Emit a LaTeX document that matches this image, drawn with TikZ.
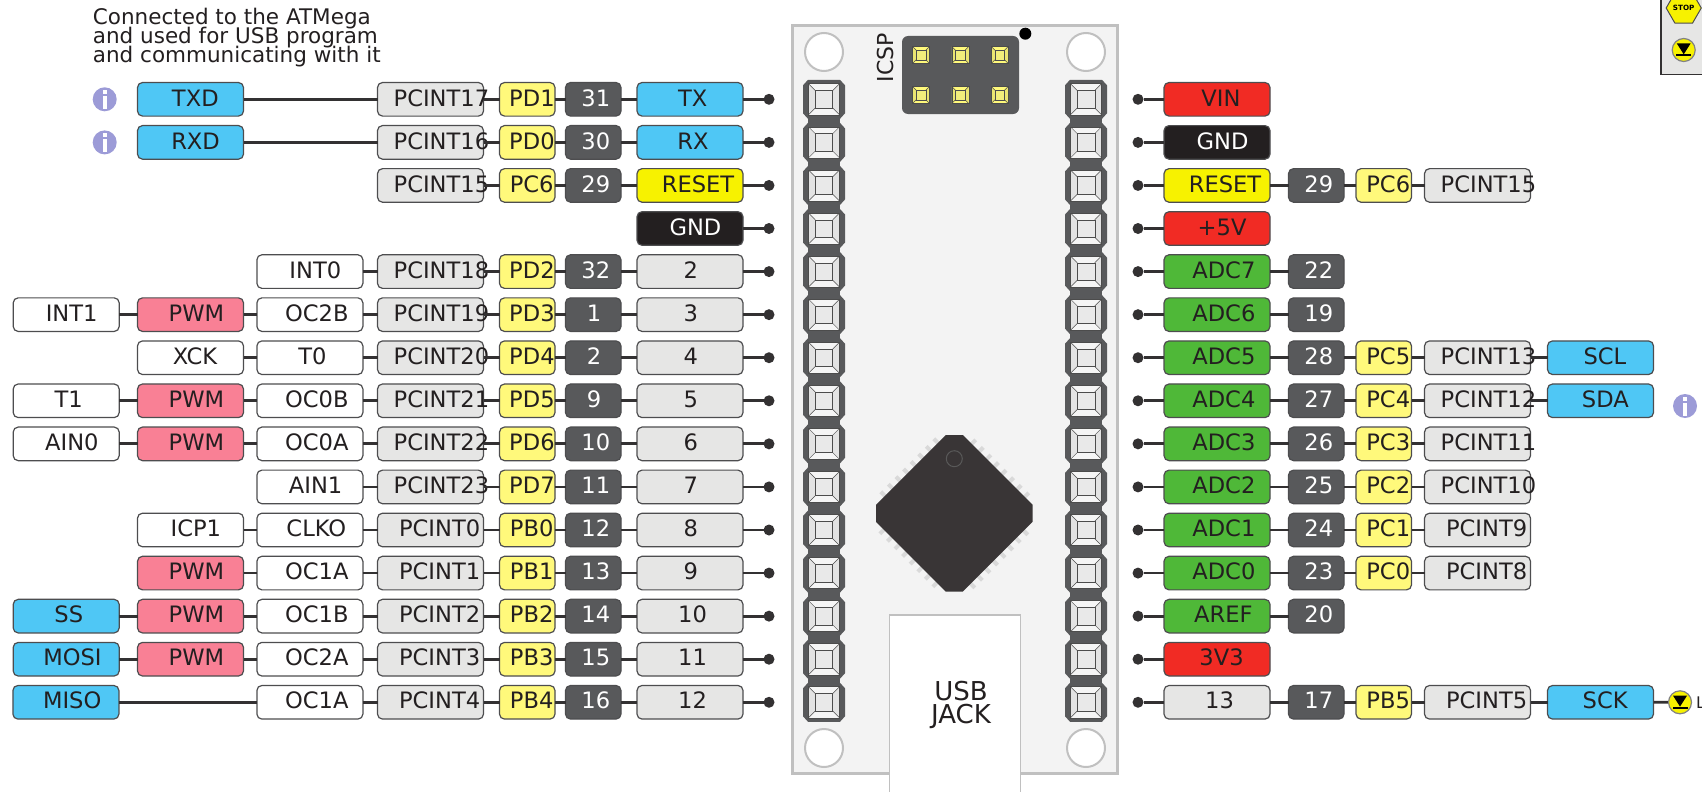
\documentclass[tikz,border=0pt]{standalone}
\usepackage{fontspec}
\setmainfont{DejaVu Sans}
\usepackage{tikz}
\usetikzlibrary{positioning, shapes.geometric}
\definecolor{wirec}{HTML}{333132}
\definecolor{edgec}{HTML}{4D4D4F}
\definecolor{bluec}{HTML}{4FC7F5}
\definecolor{pwmc}{HTML}{F98095}
\definecolor{grayc}{HTML}{E6E6E5}
\definecolor{portc}{HTML}{FFF97B}
\definecolor{digc}{HTML}{58595B}
\definecolor{resetc}{HTML}{F7F200}
\definecolor{redc}{HTML}{F12B24}
\definecolor{blackc}{HTML}{231F20}
\definecolor{greenc}{HTML}{4FB838}
\definecolor{infoc}{HTML}{9C9BD7}
\definecolor{boardc}{HTML}{C0C0C0}
\definecolor{pcbc}{HTML}{F3F3F3}
\newlength{\lblwd}
% text sits a little right of the box centre, by an eighth of its width
\newcommand{\lbl}[1]{\settowidth{\lblwd}{#1}\makebox[0pt][c]{\hspace*{\dimexpr.25\lblwd-2pt\relax}#1}}
\newcommand{\tightlines}{\setlength{\lineskiplimit}{-100pt}}
\tikzset{
  tag/.style={rectangle, draw=edgec, line width=1.2pt, rounded corners=5pt, outer sep=0pt, inner sep=0pt,
              minimum width=106pt, minimum height=33.6pt, text height=13.4pt, text depth=0pt,
              text=blackc, font=\fontsize{22.6}{26}\selectfont},
  blue/.style={tag, fill=bluec},
  pwm/.style={tag, fill=pwmc},
  plain/.style={tag, fill=white},
  gray/.style={tag, fill=grayc},
  dig/.style={tag, fill=digc, text=white, minimum width=55.5pt},
  port/.style={tag, fill=portc, minimum width=55.5pt},
  wire/.style={draw=wirec, line width=2.8pt},
  dot/.style={circle, fill=wirec, inner sep=0pt, outer sep=0pt, minimum size=11pt},
  info/.style={circle, fill=infoc, inner sep=0pt, outer sep=0pt, minimum size=24pt},
  hole/.style={circle, draw=boardc, fill=white, line width=2pt, minimum size=38pt, inner sep=0pt},
  icon/.style={circle, draw=edgec!70, fill=resetc, line width=1.2pt, minimum size=23pt, inner sep=0pt},
}
\newcommand{\infomark}[1]{
  \fill[white] (#1)+(-2,-9.5) rectangle +(2,-5.5);
  \fill[white] (#1)+(-2.2,-3) rectangle +(2.2,10);
}
\newcommand{\groundmark}[1]{
  \fill[black] (#1)+(-7,-6.7) -- +(7,-6.7) -- +(0,4.3) -- cycle;
  \fill[black] (#1)+(-7.5,4.3) rectangle +(7.5,6.2);
}
% one soldered pad with its four bevels
\newcommand{\padshape}[5]{
  \begin{scope}[shift={(#1,#2)}]
    \fill[#4] (-#3,-#3) rectangle (#3,#3);
    \fill[#5] (-#3,-#3) -- (-.56*#3,-.56*#3) -- (-.56*#3,.56*#3) -- (-#3,#3) -- cycle;
    \fill[#5] (#3,-#3) -- (.56*#3,-.56*#3) -- (.56*#3,.56*#3) -- (#3,#3) -- cycle;
    \draw[black!70, line width=.5pt] (-#3,-#3) rectangle (#3,#3);
    \draw[black!70, line width=.5pt, fill=#4!90!gray] (-.56*#3,-.56*#3) rectangle (.56*#3,.56*#3);
    \draw[black!70, line width=.5pt] (-#3,-#3) -- (-.56*#3,-.56*#3) (#3,-#3) -- (.56*#3,-.56*#3)
      (-#3,#3) -- (-.56*#3,.56*#3) (#3,#3) -- (.56*#3,.56*#3);
  \end{scope}
}

\begin{document}
\begin{tikzpicture}[x=1pt, y=-1pt]
  \useasboundingbox (0,0) rectangle (1702,792);
  \begin{scope}
  \clip (0,0) rectangle (1702,792);

  % board
  \draw[boardc, fill=pcbc, line width=3pt] (792,26) rectangle (1117,773);
  \node[hole] (holeA) at (824,52) {};
  \node[hole] (holeB) at (1086,52) {};
  \node[hole] (holeC) at (824,748) {};
  \node[hole] (holeD) at (1086,748) {};

  % headers
  \foreach \hx in {824,1086} {
    \fill[digc] (\hx-16,99) rectangle (\hx+16,702);
    \foreach \k in {0,...,14} {
      \pgfmathsetmacro{\hy}{99.3+43.07*\k}
      \fill[digc] (\hx-21,\hy-14) -- (\hx-16,\hy-19.5) -- (\hx+16,\hy-19.5) -- (\hx+21,\hy-14)
        -- (\hx+21,\hy+14) -- (\hx+16,\hy+19.5) -- (\hx-16,\hy+19.5) -- (\hx-21,\hy+14) -- cycle;
      \padshape{\hx}{\hy}{15.6}{white!92!gray}{white!78!gray}
    }
  }

  % icsp
  \fill[digc, rounded corners=6pt] (902,36) rectangle (1019,114);
  \foreach \px in {921,960.3,999.7} \foreach \py in {55,95} {
    \padshape{\px}{\py}{8.5}{portc}{portc!92!black}
  }
  \fill[black] (1025.3,33.7) circle (6);
  \node[rotate=90, font=\fontsize{22}{26}\selectfont, text=blackc] (icsp) at (885,57.6) {ICSP};

  % chip
  \begin{scope}[shift={(954.3,513.3)}]
    \foreach \r in {0,90,180,270} \foreach \k in {0,...,7} {
      \fill[black!15, rotate=\r, shift={(19+7.57*\k,-71+7.57*\k)}, rotate=45] (-3,-2) rectangle (3.5,2);
    }
    \fill[blackc!90!white] (-8.5,-78.3) -- (8.5,-78.3) -- (78.3,-8.5) -- (78.3,8.5) -- (8.5,78.3)
      -- (-8.5,78.3) -- (-78.3,8.5) -- (-78.3,-8.5) -- cycle;
    \draw[black!65, line width=1pt] (0,-54.6) circle (8);
  \end{scope}

  % usb
  \node[draw=boardc, fill=white, line width=1.2pt, minimum width=131pt, minimum height=200pt, inner sep=0pt,
        outer sep=0pt] (usb) at (954.6,715) {};
  \node[align=center, font=\fontsize{26}{23.5}\selectfont\tightlines, text=blackc] (usbtxt) at (961,705) {USB\\JACK};

  % note
  \node[align=left, anchor=north west, inner sep=0pt, text=blackc, font=\fontsize{21.5}{19}\selectfont\tightlines]
    (note) at (92.7,7.7) {Connected to the ATMega\\and used for USB program\\and communicating with it};

  % left side rows
  \foreach \k/\pc/\ptxt/\dtxt/\ptx/\ctxt in {
    0/blue/TX/31/PD1/PCINT17, 1/blue/RX/30/PD0/PCINT16, 2/reset/RESET/29/PC6/PCINT15,
    4/gray/2/32/PD2/PCINT18, 5/gray/3/1/PD3/PCINT19, 6/gray/4/2/PD4/PCINT20, 7/gray/5/9/PD5/PCINT21,
    8/gray/6/10/PD6/PCINT22, 9/gray/7/11/PD7/PCINT23, 10/gray/8/12/PB0/PCINT0, 11/gray/9/13/PB1/PCINT1,
    12/gray/10/14/PB2/PCINT2, 13/gray/11/15/PB3/PCINT3, 14/gray/12/16/PB4/PCINT4} {
    \pgfmathsetmacro{\hy}{99.3+43.07*\k}
    \coordinate (lrow\k) at (769,\hy);
    \node[tag, fill=\pc c, anchor=center] (lpin\k) at (690,\hy) {\lbl{\ptxt}};
    \node[dig, left=16pt of lpin\k] (ldig\k) {\lbl{\dtxt}};
    \node[port, left=10.5pt of ldig\k] (lport\k) {\lbl{\ptx}};
    \node[gray, left=16pt of lport\k] (lpci\k) {\lbl{\ctxt}};
    \node[dot] (ldot\k) at (lrow\k) {};
    \draw[wire] (lpci\k) -- (lport\k) -- (ldig\k) -- (lpin\k) -- (ldot\k);
  }
  \node[tag, fill=blackc, text=white] (lgnd) at (690,228.5) {\lbl{GND}};
  \node[dot] (lgdot) at (769,228.5) {};
  \draw[wire] (lgnd) -- (lgdot);

  % second column on the left
  \foreach \k/\ctxt in {4/INT0, 5/OC2B, 6/T0, 7/OC0B, 8/OC0A, 9/AIN1, 10/CLKO, 11/OC1A, 12/OC1B, 13/OC2A, 14/OC1A} {
    \node[plain, left=14.6pt of lpci\k] (lfun\k) {\lbl{\ctxt}};
    \draw[wire] (lfun\k) -- (lpci\k);
  }
  % third column
  \foreach \k in {5,7,8,11,12,13} {
    \node[pwm, left=13.4pt of lfun\k] (lpwm\k) {\lbl{PWM}};
    \draw[wire] (lpwm\k) -- (lfun\k);
  }
  \node[plain, left=13.4pt of lfun6] (lxck) {\lbl{XCK}};
  \draw[wire] (lxck) -- (lfun6);
  \node[plain, left=13.4pt of lfun10] (licp) {\lbl{ICP1}};
  \draw[wire] (licp) -- (lfun10);
  \node[blue, left=134pt of lpci0] (ltxd) {\lbl{TXD}};
  \draw[wire] (ltxd) -- (lpci0);
  \node[blue, left=134pt of lpci1] (lrxd) {\lbl{RXD}};
  \draw[wire] (lrxd) -- (lpci1);
  % outer column
  \foreach \k/\ctxt/\st in {5/INT1/plain, 7/T1/plain, 8/AIN0/plain, 12/SS/blue, 13/MOSI/blue} {
    \node[\st, left=18.3pt of lpwm\k] (lout\k) {\lbl{\ctxt}};
    \draw[wire] (lout\k) -- (lpwm\k);
  }
  \node[blue, left=138pt of lfun14] (lmiso) {\lbl{MISO}};
  \draw[wire] (lmiso) -- (lfun14);
  \node[info] (infoA) at (104.7,99.3) {};
  \infomark{infoA}
  \node[info] (infoB) at (104.7,142.4) {};
  \infomark{infoB}

  % right side rows
  \foreach \k/\pc/\ptxt in {0/red/VIN, 2/reset/RESET, 3/red/+5V, 4/green/ADC7, 5/green/ADC6, 6/green/ADC5,
    7/green/ADC4, 8/green/ADC3, 9/green/ADC2, 10/green/ADC1, 11/green/ADC0, 12/green/AREF, 13/red/3V3, 14/gray/13} {
    \pgfmathsetmacro{\hy}{99.3+43.07*\k}
    \node[dot] (rdot\k) at (1138,\hy) {};
    \node[tag, fill=\pc c] (rpin\k) at (1217,\hy) {\lbl{\ptxt}};
    \draw[wire] (rdot\k) -- (rpin\k);
  }
  \node[dot] (rgdot) at (1138,142.4) {};
  \node[tag, fill=blackc, text=white] (rgnd) at (1217,142.4) {\lbl{GND}};
  \draw[wire] (rgdot) -- (rgnd);
  \foreach \k/\dtxt in {2/29, 4/22, 5/19, 6/28, 7/27, 8/26, 9/25, 10/24, 11/23, 12/20, 14/17} {
    \node[dig, right=18.5pt of rpin\k] (rdig\k) {\lbl{\dtxt}};
    \draw[wire] (rpin\k) -- (rdig\k);
  }
  \foreach \k/\ptx/\ctxt in {2/PC6/PCINT15, 6/PC5/PCINT13, 7/PC4/PCINT12, 8/PC3/PCINT11, 9/PC2/PCINT10,
    10/PC1/PCINT9, 11/PC0/PCINT8, 14/PB5/PCINT5} {
    \node[port, right=12pt of rdig\k] (rport\k) {\lbl{\ptx}};
    \node[gray, right=13pt of rport\k] (rpci\k) {\lbl{\ctxt}};
    \draw[wire] (rdig\k) -- (rport\k) -- (rpci\k);
  }
  \foreach \k/\ctxt in {6/SCL, 7/SDA, 14/SCK} {
    \node[blue, right=17pt of rpci\k] (rbus\k) {\lbl{\ctxt}};
    \draw[wire] (rpci\k) -- (rbus\k);
  }
  \node[info] (infoC) at (1685,406) {};
  \infomark{infoC}
  \node[icon] (led) at (1680,702.3) {};
  \groundmark{led}
  \draw[wire] (rbus14) -- (led);
  \node[anchor=west, inner sep=0pt, font=\fontsize{16}{18}\selectfont, text=blackc] (ledtxt) at (1696,702.3) {L};

  % corner panel
  \draw[fill=grayc, draw=wirec, line width=1.2pt] (1661,-5) rectangle (1710,74.3);
  \node[regular polygon, regular polygon sides=6, draw=edgec, fill=resetc, line width=1pt, minimum size=27pt,
        inner sep=0pt, font=\bfseries\fontsize{7.2}{8}\selectfont] (stop) at (1683.7,8) {STOP};
  \node[icon] (down) at (1683.7,50) {};
  \groundmark{down}
  \end{scope}
\end{tikzpicture}
\end{document}
